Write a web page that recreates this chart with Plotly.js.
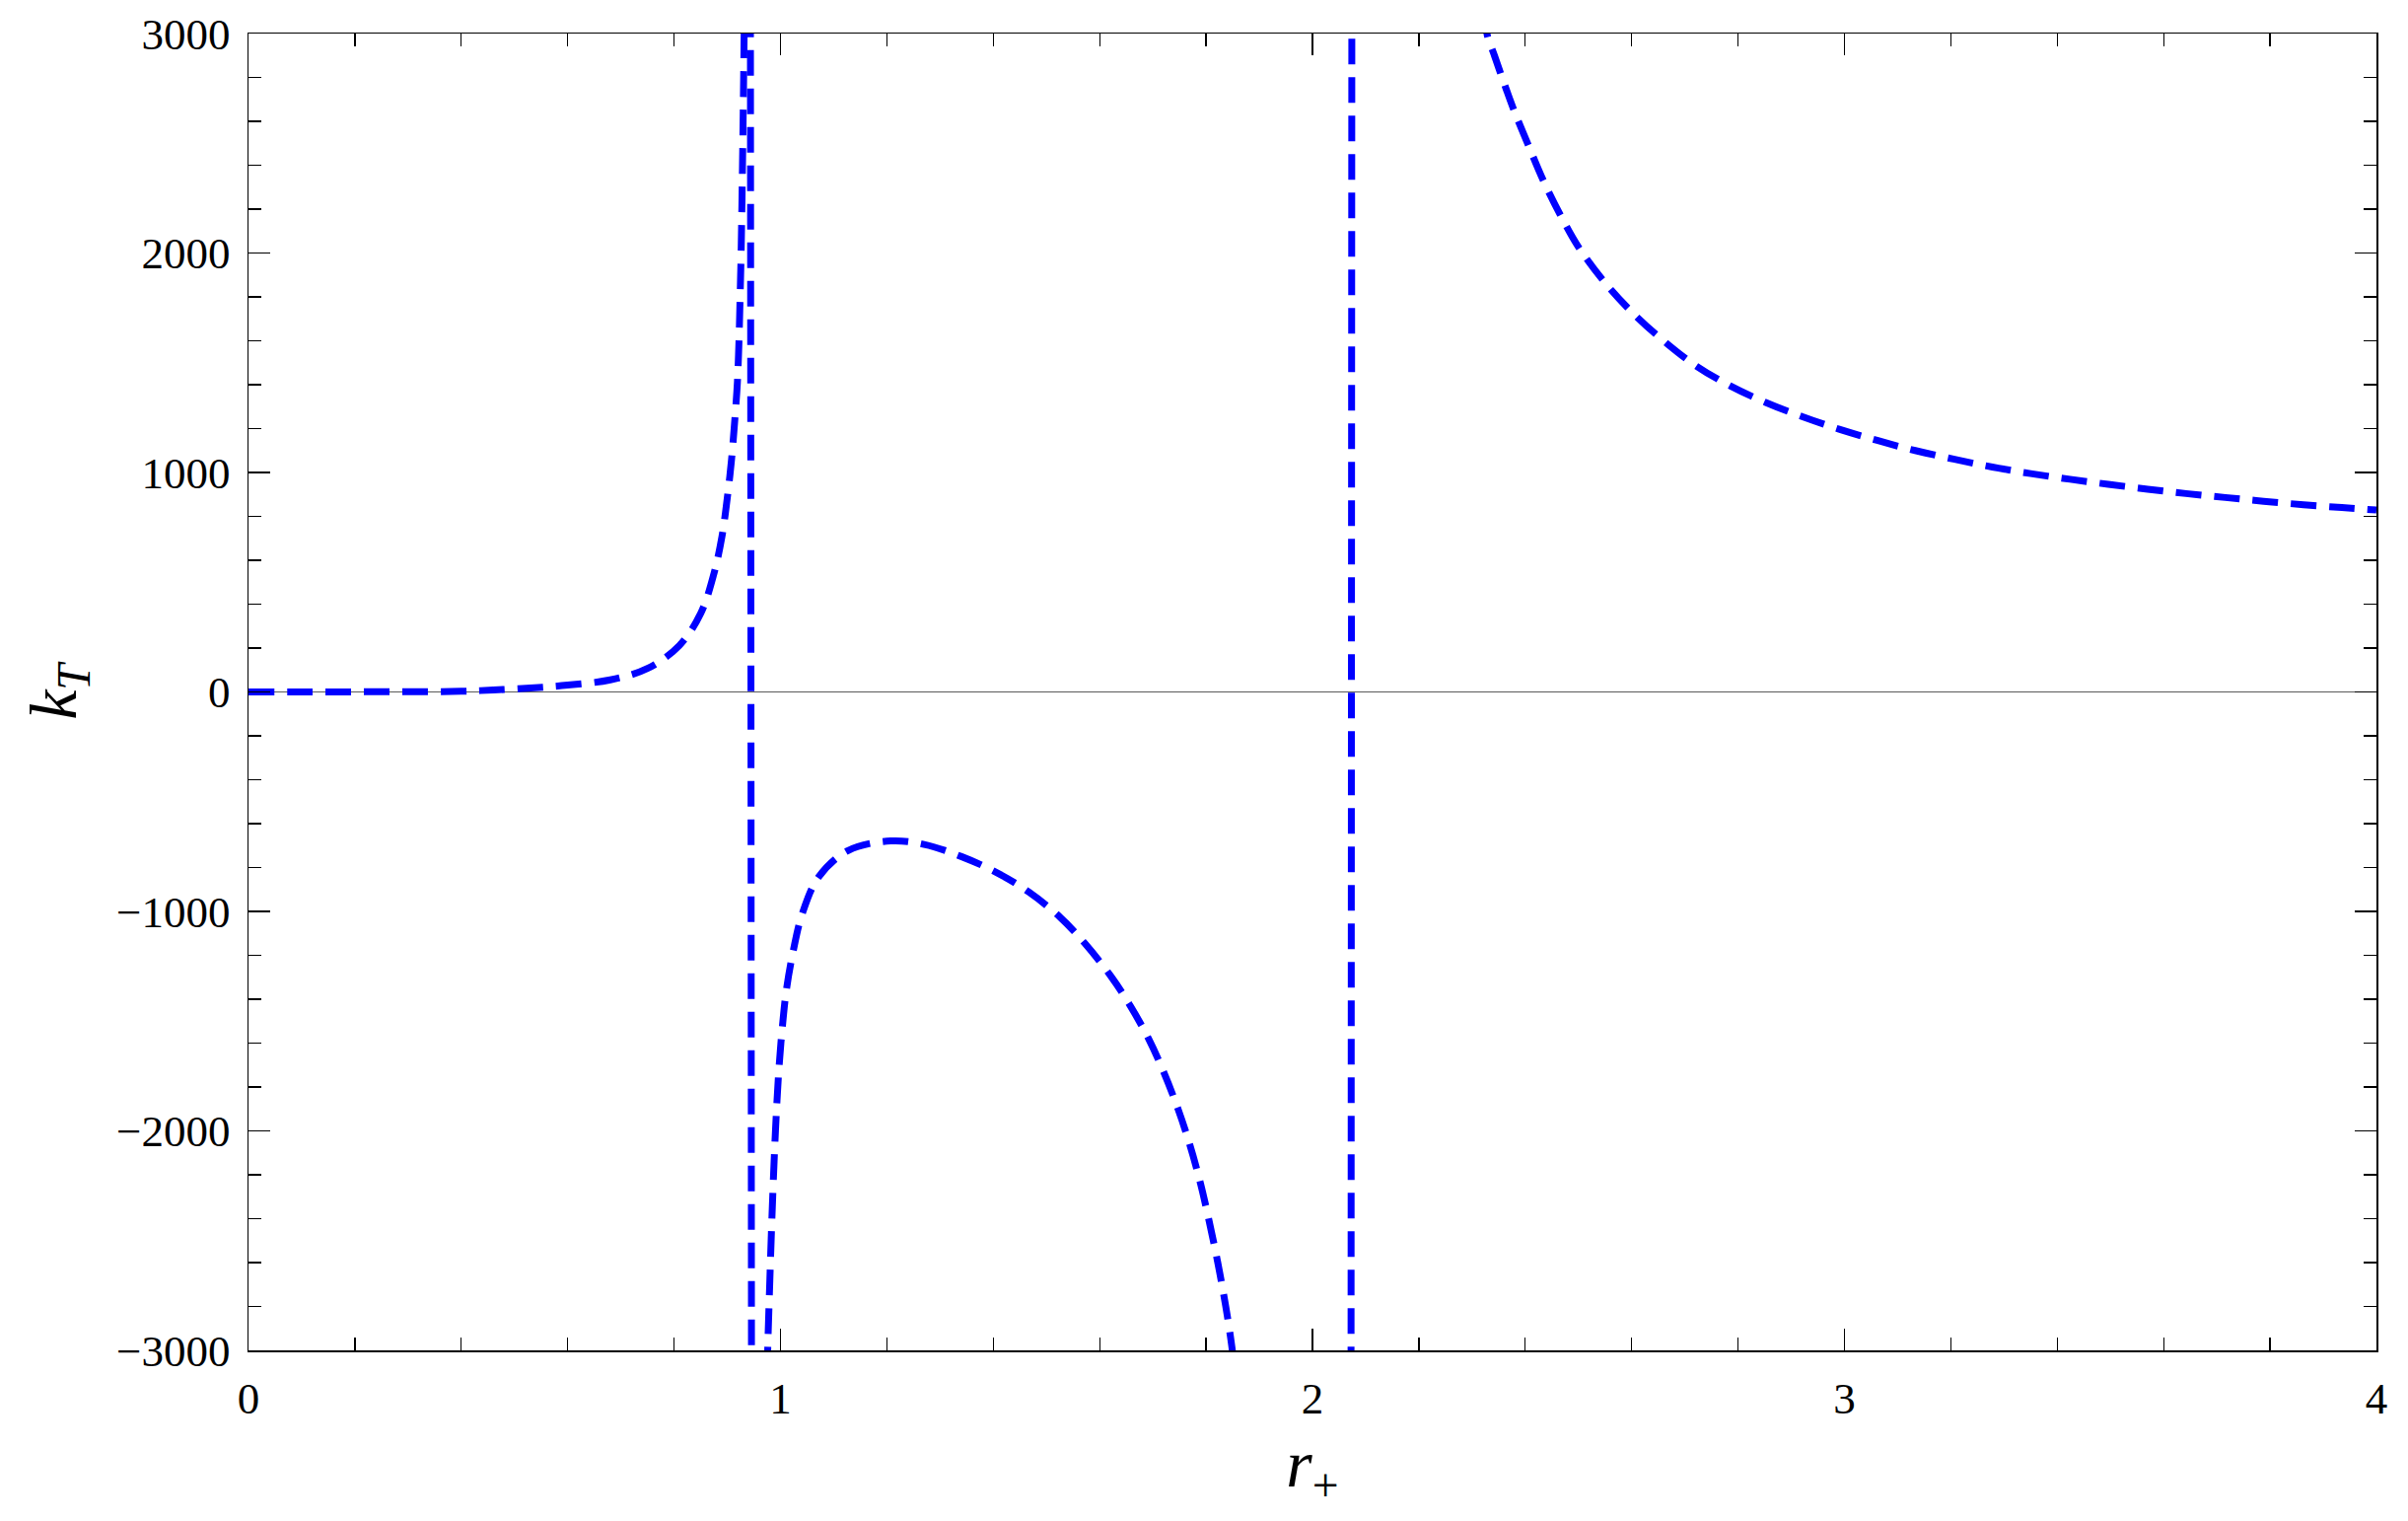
<!DOCTYPE html>
<html>
<head>
<meta charset="utf-8">
<script src="https://cdn.plot.ly/plotly-3.0.1.min.js"></script>
<style>
  html, body { margin: 0; padding: 0; background: #fff; }
  #plot { width: 2442px; height: 1542px; }
</style>
</head>
<body>
<div id="plot"></div>
<script>
// values
// branch left of the first pole (k_T -> +inf)
const rBranch1 = [0, 0.1, 0.2, 0.3, 0.4, 0.46, 0.53, 0.6, 0.68, 0.75, 0.81, 0.85, 0.875, 0.89,
  0.9, 0.908, 0.914, 0.919, 0.922, 0.924, 0.926, 0.928, 0.93, 0.932, 0.934];
const kBranch1 = [0, 0, 0.5, 1, 3, 9, 18, 31, 55, 107, 212, 358, 540, 708,
  884, 1059, 1235, 1410, 1600, 1790, 2000, 2300, 2650, 3050, 3400];

// near-vertical line the plotter draws across the first pole
const rJump1 = [0.9435, 0.9455];
const kJump1 = [3100, -3100];

// negative branch between the poles
const rBranch2 = [0.9755, 0.976, 0.98, 0.984, 0.988, 0.992, 0.997, 1.003, 1.011, 1.024, 1.041,
  1.072, 1.127, 1.207, 1.27, 1.34, 1.408, 1.467, 1.525, 1.572, 1.621, 1.655, 1.692,
  1.72, 1.748, 1.769, 1.788, 1.803, 1.822, 1.837, 1.846, 1.851];
const kBranch2 = [-3100, -3000, -2680, -2390, -2140, -1930, -1720, -1540, -1360, -1180, -1010,
  -842, -723, -679, -695, -750, -825, -912, -1025, -1145, -1295, -1420, -1580,
  -1730, -1905, -2060, -2225, -2380, -2600, -2800, -2940, -3030];

// vertical line across the second pole
const rJump2 = [2.0725, 2.074];
const kJump2 = [-3100, 3100];

// decaying branch right of the second pole
const rBranch3 = [2.326, 2.328, 2.342, 2.36, 2.378, 2.406, 2.434, 2.47, 2.502, 2.555, 2.605,
  2.661, 2.721, 2.785, 2.853, 2.92, 2.99, 3.063, 3.133, 3.207, 3.278,
  3.35, 3.424, 3.496, 3.57, 3.642, 3.716, 3.788, 3.863, 3.935, 4.0];
const kBranch3 = [3100, 3000, 2900, 2775, 2655, 2490, 2330, 2155, 2020, 1850, 1720,
  1598, 1486, 1395, 1318, 1255, 1197, 1145, 1100, 1060, 1025,
  995, 969, 946, 924, 904, 886, 869, 853, 840, 829];

const xTicks = [0, 1, 2, 3, 4];
const yTicks = [-3000, -2000, -1000, 0, 1000, 2000, 3000];

const serif = '"Liberation Serif", "DejaVu Serif", serif';
const blueDash = { color: '#0000ff', width: 7, dash: '26px,13px' };

function curve(xs, ys, smooth) {
  return {
    x: xs,
    y: ys,
    type: 'scatter',
    mode: 'lines',
    line: Object.assign({}, blueDash, smooth ? { shape: 'spline', smoothing: 1 } : { shape: 'linear' }),
    hoverinfo: 'skip'
  };
}

const traces = [
  curve(rBranch1, kBranch1, true),
  curve(rJump1, kJump1, false),
  curve(rBranch2, kBranch2, true),
  curve(rJump2, kJump2, false),
  curve(rBranch3, kBranch3, true)
];

const axisCommon = {
  showgrid: false,
  showline: true,
  linecolor: '#000',
  linewidth: 1.5,
  mirror: 'ticks',
  ticks: 'inside',
  ticklen: 22,
  tickwidth: 1.3,
  tickcolor: '#000',
  tickfont: { family: serif, size: 45, color: '#000' },
  ticklabelstandoff: 8
};

const layout = {
  width: 2442,
  height: 1542,
  margin: { l: 252, r: 32, t: 34, b: 173 },
  paper_bgcolor: '#fff',
  plot_bgcolor: '#fff',
  showlegend: false,
  xaxis: Object.assign({}, axisCommon, {
    range: [0, 4],
    tickvals: xTicks,
    ticktext: xTicks.map(String),
    zeroline: false,
    minor: { dtick: 0.2, ticks: 'inside', ticklen: 13, tickwidth: 1.3, tickcolor: '#000' },
    title: {
      text: '<i>r</i><sub>+</sub>',
      font: { family: serif, size: 68, color: '#000' },
      standoff: 18
    }
  }),
  yaxis: Object.assign({}, axisCommon, {
    range: [-3000, 3000],
    tickvals: yTicks,
    zeroline: true,
    zerolinecolor: '#5a5a5a',
    zerolinewidth: 1.3,
    minor: { dtick: 200, ticks: 'inside', ticklen: 13, tickwidth: 1.3, tickcolor: '#000' },
    title: {
      text: '<i>k</i><sub><i>T</i></sub>',
      font: { family: serif, size: 68, color: '#000' },
      standoff: 18
    }
  })
};

Plotly.newPlot('plot', traces, layout, { staticPlot: true, displayModeBar: false });
</script>
</body>
</html>
